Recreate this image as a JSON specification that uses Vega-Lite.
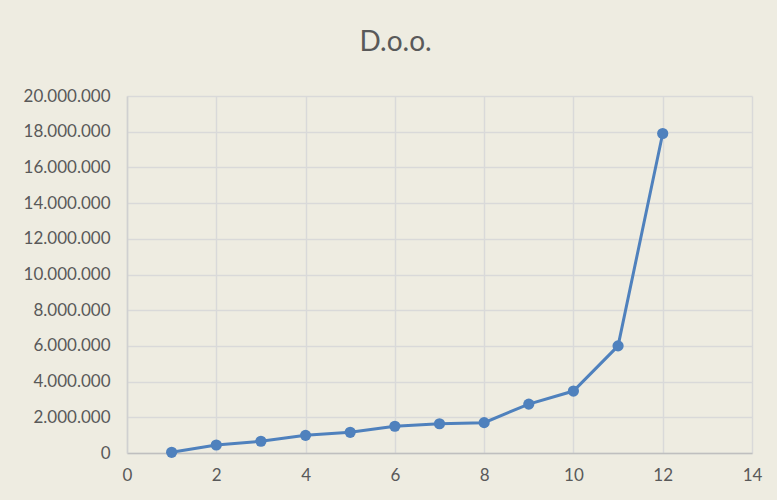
{
  "$schema": "https://vega.github.io/schema/vega-lite/v6.json",
  "width": 625,
  "height": 357,
  "autosize": "none",
  "padding": {"left": 127, "top": 96, "right": 25, "bottom": 47},
  "background": "#EEECE1",
  "title": {
    "text": "D.o.o.",
    "font": "Lato",
    "fontSize": 28,
    "fontWeight": "normal",
    "color": "#595959",
    "anchor": "middle",
    "dx": -44,
    "offset": 30
  },
  "data": {
    "values": [
      {"x": 1, "y": 40000},
      {"x": 2, "y": 450000},
      {"x": 3, "y": 660000},
      {"x": 4, "y": 990000},
      {"x": 5, "y": 1160000},
      {"x": 6, "y": 1500000},
      {"x": 7, "y": 1640000},
      {"x": 8, "y": 1700000},
      {"x": 9, "y": 2740000},
      {"x": 10, "y": 3470000},
      {"x": 11, "y": 6000000},
      {"x": 12, "y": 17900000}
    ]
  },
  "mark": {
    "type": "line",
    "color": "#4F81BD",
    "strokeWidth": 3,
    "point": {"filled": true, "size": 125, "color": "#4F81BD", "opacity": 1}
  },
  "encoding": {
    "x": {
      "field": "x",
      "type": "quantitative",
      "scale": {"domain": [0, 14], "nice": false, "zero": true},
      "axis": {
        "title": null,
        "values": [0, 2, 4, 6, 8, 10, 12, 14],
        "ticks": false,
        "labelFlush": false,
        "labelPadding": 14,
        "labelFont": "Lato",
        "labelFontSize": 17,
        "labelColor": "#595959",
        "domainColor": "#BFBFBF",
        "domainWidth": 1.5,
        "gridColor": "#D9D9D9",
        "gridWidth": 1.5
      }
    },
    "y": {
      "field": "y",
      "type": "quantitative",
      "scale": {"domain": [0, 20000000], "nice": false},
      "axis": {
        "title": null,
        "values": [0, 2000000, 4000000, 6000000, 8000000, 10000000, 12000000, 14000000, 16000000, 18000000, 20000000],
        "labelExpr": "replace(format(datum.value, ','), regexp(',', 'g'), '.')",
        "ticks": false,
        "labelFlush": false,
        "labelPadding": 17,
        "labelFont": "Lato",
        "labelFontSize": 17,
        "labelColor": "#595959",
        "domainColor": "#D0D0D0",
        "domainWidth": 1.5,
        "gridColor": "#D9D9D9",
        "gridWidth": 1.5
      }
    }
  },
  "config": {"view": {"stroke": null}}
}
